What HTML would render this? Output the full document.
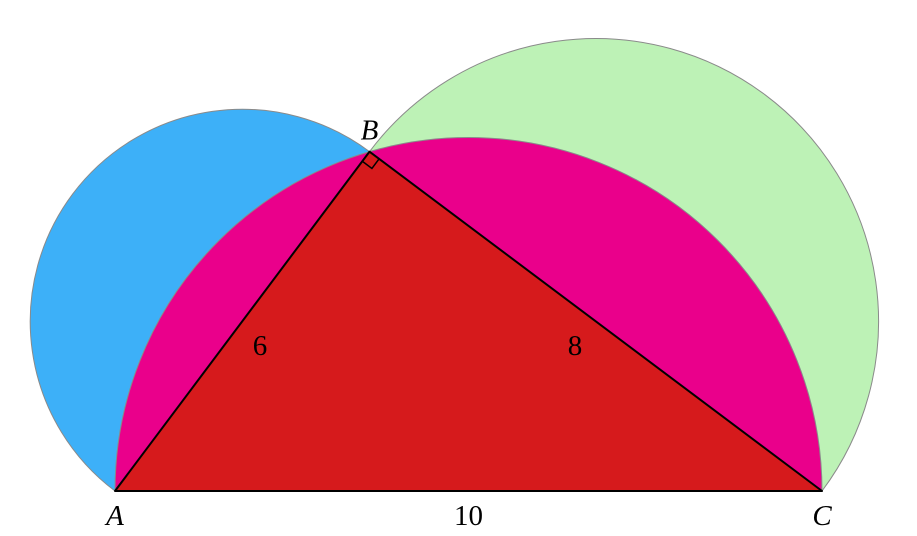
<!DOCTYPE html>
<html><head><meta charset="utf-8"><style>
html,body{margin:0;padding:0;background:#fff;width:917px;height:536px;overflow:hidden}
text{font-family:"Liberation Serif",serif;font-size:29px;fill:#000}
</style></head><body>
<svg id="fig" width="917" height="536" viewBox="0 0 917 536" xmlns="http://www.w3.org/2000/svg"></svg>
<script>
const sideLabels = ["6", "8", "10"];
const sideLengths = [6, 8, 10];
const vertexNames = ["A", "B", "C"];

const svg = document.getElementById('fig');
const NS = 'http://www.w3.org/2000/svg';
const Ax = 115, Ay = 491, Cx = 822;
const scale = (Cx - Ax) / sideLengths[2];
const a = sideLengths[0], b = sideLengths[1], c = sideLengths[2];
const px = a * a / c, h = a * b / c;
const A = [Ax, Ay], C = [Cx, Ay], B = [Ax + px * scale, Ay - h * scale];

function mk(tag, attrs) { const e = document.createElementNS(NS, tag); for (const k in attrs) e.setAttribute(k, attrs[k]); svg.appendChild(e); return e; }
function semi(P, Q, fill, name) {
  const r = Math.hypot(Q[0] - P[0], Q[1] - P[1]) / 2;
  const e = mk('path', { d: `M${P[0]},${P[1]} A${r},${r} 0 0 1 ${Q[0]},${Q[1]} Z`, fill: fill, stroke: '#8a8a8a', 'stroke-width': 1 });
  
  
}
semi(A, B, '#3db0f8', 'semicircle-ab');
semi(B, C, '#bdf2b6', 'semicircle-bc');
semi(A, C, '#ea008b', 'semicircle-ac');

const tri = mk('path', { d: `M${A[0]},${A[1]} L${B[0]},${B[1]} L${C[0]},${C[1]} Z`, fill: '#d61a1c', stroke: '#000', 'stroke-width': 2, 'stroke-linejoin': 'round' });



const u1 = [(A[0] - B[0]) / (a * scale), (A[1] - B[1]) / (a * scale)];
const u2 = [(C[0] - B[0]) / (b * scale), (C[1] - B[1]) / (b * scale)];
const s = 12;
const p1 = [B[0] + s * u1[0], B[1] + s * u1[1]], p3 = [B[0] + s * u2[0], B[1] + s * u2[1]];
const p2 = [p1[0] + s * u2[0], p1[1] + s * u2[1]];
const ra = mk('path', { d: `M${p1[0]},${p1[1]} L${p2[0]},${p2[1]} L${p3[0]},${p3[1]}`, fill: 'none', stroke: '#000', 'stroke-width': 1.5 });



function label(x, y, t, italic, name) {
  const e = mk('text', { x: x, y: y, 'text-anchor': 'middle' });
  if (italic) e.setAttribute('font-style', 'italic');
  e.textContent = t;
  
  
}
label(A[0], Ay + 34, vertexNames[0], true, 'vertex-label-a');
label(B[0], B[1] - 12, vertexNames[1], true, 'vertex-label-b');
label(C[0], Ay + 34, vertexNames[2], true, 'vertex-label-c');
label(260, 355, sideLabels[0], false, 'side-label-ab');
label(575, 355, sideLabels[1], false, 'side-label-bc');
label((A[0] + C[0]) / 2, Ay + 34, sideLabels[2], false, 'side-label-ac');
</script>
</body></html>
